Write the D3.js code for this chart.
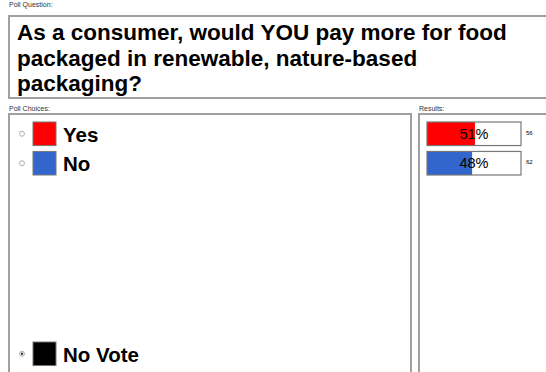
<!DOCTYPE html>
<html>
<head>
<meta charset="utf-8">
<script src="https://cdn.jsdelivr.net/npm/d3@7"></script>
<style>
  body { margin: 0; background: #fff; }
  svg { display: block; font-family: "Liberation Sans", Arial, sans-serif; }
</style>
</head>
<body>
<svg id="poll" width="546" height="372"></svg>
<script>
// Poll data
const questionLines = ["As a consumer, would YOU pay more for food", "packaged in renewable, nature-based", "packaging?"];
const choices = ["Yes", "No"];
const choiceColors = ["#ff0000", "#3366cc"];
const percents = [51, 48];
const counts = [56, 62];
const noVoteLabel = "No Vote";

const svg = d3.select("#poll");
const boxStroke = "#a0a0a0";

// Small section labels
function sectionLabel(x, y, txt) {
    svg.append("text")
        .attr("x", x).attr("y", y)
        .attr("font-size", "7px")
        .attr("fill", "#333")
        .text(txt);
}

// Question box
sectionLabel(9, 7, "Poll Question:");
svg.append("rect")
    .attr("x", 9).attr("y", 16)
    .attr("width", 560).attr("height", 82)
    .attr("fill", "#fff")
    .attr("stroke", boxStroke)
    .attr("stroke-width", 2);

svg.append("g")
    .selectAll("text")
    .data(questionLines)
    .join("text")
    .attr("x", 17)
    .attr("y", (d, i) => 40 + i * 25.5)
    .attr("font-size", "22.5px")
    .attr("font-weight", "bold")
    .attr("fill", "#000")
    .text(d => d);

// Choices box
sectionLabel(9, 111, "Poll Choices:");
svg.append("rect")
    .attr("x", 9).attr("y", 114)
    .attr("width", 402).attr("height", 300)
    .attr("fill", "#fff")
    .attr("stroke", boxStroke)
    .attr("stroke-width", 2);

// Results box
sectionLabel(419, 111, "Results:");
svg.append("rect")
    .attr("x", 419).attr("y", 114)
    .attr("width", 200).attr("height", 300)
    .attr("fill", "#fff")
    .attr("stroke", boxStroke)
    .attr("stroke-width", 2);

// Row positions
const y = d3.scaleBand()
    .domain(choices)
    .range([122, 175])
    .paddingInner(0.2);

const x = d3.scaleLinear()
    .domain([0, 100])
    .range([427, 521]);

// Choice rows
const rows = svg.append("g")
    .selectAll("g")
    .data(choices)
    .join("g")
    .attr("transform", d => `translate(0,${y(d)})`);

rows.append("circle")
    .attr("cx", 22).attr("cy", y.bandwidth() / 2)
    .attr("r", 2.5)
    .attr("fill", "#fff")
    .attr("stroke", "#999")
    .attr("stroke-width", 0.8);

rows.append("rect")
    .attr("x", 33).attr("y", 0)
    .attr("width", 23).attr("height", y.bandwidth())
    .attr("fill", (d, i) => choiceColors[i])
    .attr("stroke", "#777")
    .attr("stroke-width", 1);

rows.append("text")
    .attr("x", 63).attr("y", y.bandwidth() - 4)
    .attr("font-size", "20.5px")
    .attr("font-weight", "bold")
    .attr("fill", "#000")
    .text(d => d);

// No Vote row at bottom
const nv = svg.append("g").attr("transform", "translate(0,342)");
nv.append("circle")
    .attr("cx", 22).attr("cy", y.bandwidth() / 2)
    .attr("r", 2.5)
    .attr("fill", "#fff")
    .attr("stroke", "#999")
    .attr("stroke-width", 0.8);
nv.append("circle")
    .attr("cx", 22).attr("cy", y.bandwidth() / 2)
    .attr("r", 1.2)
    .attr("fill", "#333");
nv.append("rect")
    .attr("x", 33).attr("y", 0)
    .attr("width", 23).attr("height", y.bandwidth())
    .attr("fill", "#000")
    .attr("stroke", "#777")
    .attr("stroke-width", 1);
nv.append("text")
    .attr("x", 63).attr("y", y.bandwidth() - 4)
    .attr("font-size", "20.5px")
    .attr("font-weight", "bold")
    .attr("fill", "#000")
    .text(noVoteLabel);

// Result bars
const bars = svg.append("g")
    .selectAll("g")
    .data(choices)
    .join("g")
    .attr("transform", d => `translate(0,${y(d)})`);

bars.append("rect")
    .attr("x", x(0)).attr("y", 0)
    .attr("width", x(100) - x(0)).attr("height", y.bandwidth())
    .attr("fill", "#fff");

bars.append("rect")
    .attr("x", x(0)).attr("y", 0)
    .attr("width", (d, i) => x(percents[i]) - x(0))
    .attr("height", y.bandwidth())
    .attr("fill", (d, i) => choiceColors[i]);

bars.append("rect")
    .attr("x", x(0)).attr("y", 0)
    .attr("width", x(100) - x(0)).attr("height", y.bandwidth())
    .attr("fill", "none")
    .attr("stroke", "#777")
    .attr("stroke-width", 1.2);

bars.append("text")
    .attr("x", (x(0) + x(100)) / 2)
    .attr("y", y.bandwidth() / 2 + 5)
    .attr("text-anchor", "middle")
    .attr("font-size", "14.5px")
    .attr("fill", "#000")
    .text((d, i) => percents[i] + "%");

bars.append("text")
    .attr("x", 526)
    .attr("y", y.bandwidth() / 2 + 1)
    .attr("font-size", "6px")
    .attr("fill", "#000")
    .text((d, i) => counts[i]);
</script>
</body>
</html>
